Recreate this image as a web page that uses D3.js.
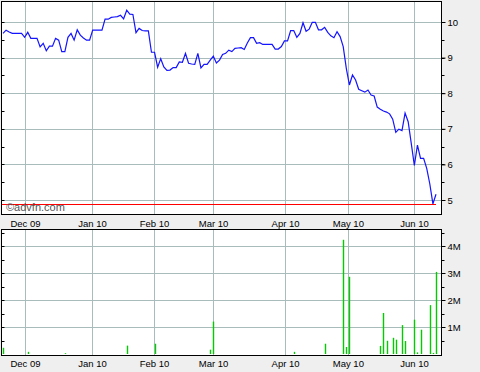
<!DOCTYPE html>
<html>
<head>
<meta charset="utf-8">
<script src="https://cdn.jsdelivr.net/npm/d3@7"></script>
<style>
  body { margin: 0; background: #efefef; }
  svg { display: block; font-family: "Liberation Sans", Arial, sans-serif; }
</style>
</head>
<body>
<svg id="chart" width="480" height="372"></svg>
<script>
// daily closing prices, one per trading day
const prices = [
  9.68, 9.77, 9.72, 9.68, 9.68, 9.68, 9.68, 9.57, 9.71, 9.54,
  9.54, 9.54, 9.30, 9.40, 9.19, 9.32, 9.32, 9.54, 9.49, 9.17,
  9.17, 9.57, 9.68, 9.49, 9.78, 9.63, 9.55, 9.49, 9.49, 9.77,
  9.77, 9.77, 9.77, 10.08, 10.08, 10.13, 10.14, 10.15, 10.19, 10.09,
  10.33, 10.22, 10.21, 9.70, 9.82, 9.76, 9.75, 9.75, 9.15, 9.15,
  8.73, 8.97, 8.74, 8.64, 8.65, 8.72, 8.72, 8.88, 8.87, 9.12,
  8.84, 8.82, 8.81, 9.12, 8.71, 8.81, 8.81, 8.93, 9.04, 8.85,
  8.93, 9.09, 9.12, 9.21, 9.17, 9.26, 9.27, 9.28, 9.23, 9.41,
  9.56, 9.56, 9.40, 9.42, 9.37, 9.37, 9.37, 9.37, 9.24, 9.24,
  9.31, 9.47, 9.47, 9.76, 9.76, 9.57, 9.68, 9.98, 9.74, 9.80,
  9.99, 9.99, 9.78, 9.78, 9.85, 9.71, 9.61, 9.56, 9.73, 9.59,
  9.31, 8.70, 8.23, 8.51, 8.37, 8.11, 8.07, 8.03, 8.09, 7.95,
  7.92, 7.61, 7.55, 7.50, 7.47, 7.42, 7.27, 6.90, 6.99, 6.95,
  7.44, 7.20, 6.59, 5.97, 6.54, 6.17, 6.17, 5.89, 5.45, 4.89,
  5.16
];

// volume (millions) on the days that traded
const volumeDays = [0, 8, 20, 40, 49, 67, 68, 94, 104, 110, 111, 112,
  122, 123, 124, 126, 127, 129, 130, 133, 134, 135, 138, 139, 140];
const volumeValues = [0.23, 0.08, 0.03, 0.31, 0.38, 0.16, 1.2, 0.08, 0.38, 4.23, 0.26, 2.86,
  0.30, 1.52, 0.49, 0.60, 0.53, 1.07, 0.48, 1.27, 0.06, 0.9, 1.81, 0.04, 3.04];

// month labels and the trading-day position where each month starts
const monthLabels = ["Dec 09", "Jan 10", "Feb 10", "Mar 10", "Apr 10", "May 10", "Jun 10"];
const monthStarts = [7.1, 28.8, 48.8, 67.9, 91.2, 111.5, 132.9];

const priceTicks = [5, 6, 7, 8, 9, 10];
const volumeTicks = [1, 2, 3, 4];
const volumeTickLabels = ["1M", "2M", "3M", "4M"];

const svg = d3.select("#chart");
const gridColor = "#a9bcbc";

const panelL = 1.5, panelR = 441.5;
const top1 = 1.5, bot1 = 214.5;
const top2 = 229.5, bot2 = 355.5;

const x = d3.scaleLinear().domain([0, prices.length - 1]).range([3, 436]);
const y = d3.scaleLinear().domain([5, 10]).range([200, 22]);
const yv = d3.scaleLinear().domain([0, 4]).range([354, 246]);

// panels
svg.append("rect").attr("x", panelL).attr("y", top1)
  .attr("width", panelR - panelL).attr("height", bot1 - top1).attr("fill", "#fff");
svg.append("rect").attr("x", panelL).attr("y", top2)
  .attr("width", panelR - panelL).attr("height", bot2 - top2).attr("fill", "#fff");

function drawGrid(g, yScale, ticks, yTop, yBot) {
  g.selectAll("line.h").data(ticks).join("line").attr("class", "h")
    .attr("x1", panelL).attr("x2", panelR)
    .attr("y1", d => Math.round(yScale(d)) + 0.5).attr("y2", d => Math.round(yScale(d)) + 0.5)
    .attr("stroke", gridColor);
  g.selectAll("line.v").data(monthStarts).join("line").attr("class", "v")
    .attr("x1", d => Math.round(x(d)) + 0.5).attr("x2", d => Math.round(x(d)) + 0.5)
    .attr("y1", yTop).attr("y2", yBot)
    .attr("stroke", gridColor);
}

drawGrid(svg.append("g"), y, priceTicks, top1, bot1);
drawGrid(svg.append("g"), yv, volumeTicks, top2, bot2);

// minor ticks at half steps, on both sides of each panel
function drawMinor(values, yScale) {
  const g = svg.append("g");
  g.selectAll("line.l").data(values).join("line").attr("class", "l")
    .attr("x1", panelL).attr("x2", panelL + 3)
    .attr("y1", d => Math.round(yScale(d)) + 0.5).attr("y2", d => Math.round(yScale(d)) + 0.5)
    .attr("stroke", "#000");
  g.selectAll("line.r").data(values).join("line").attr("class", "r")
    .attr("x1", panelR).attr("x2", panelR + 3)
    .attr("y1", d => Math.round(yScale(d)) + 0.5).attr("y2", d => Math.round(yScale(d)) + 0.5)
    .attr("stroke", "#000");
}
drawMinor(d3.range(4.75 + 0.25, 10.6, 0.5).filter(v => v > 4.65 && v < 10.5), y);
drawMinor(d3.range(0.5, 4.6, 0.5), yv);

// low line
const low = d3.min(prices);
svg.append("line")
  .attr("x1", panelL).attr("x2", x(prices.length - 1))
  .attr("y1", Math.round(y(low)) + 0.5).attr("y2", Math.round(y(low)) + 0.5)
  .attr("stroke", "#ff0000").attr("stroke-width", 1);

// price line
svg.append("path")
  .datum(prices)
  .attr("d", d3.line().x((d, i) => x(i)).y(d => y(d)))
  .attr("fill", "none")
  .attr("stroke", "#1414ff")
  .attr("stroke-width", 1.2);

// volume bars
svg.append("g").selectAll("line").data(volumeDays).join("line")
  .attr("x1", d => Math.round(x(d)) + 0.5).attr("x2", d => Math.round(x(d)) + 0.5)
  .attr("y1", yv(0)).attr("y2", (d, i) => yv(volumeValues[i]))
  .attr("stroke", "#00cc00").attr("stroke-width", 1.4);

// borders
svg.append("rect").attr("x", panelL).attr("y", top1)
  .attr("width", panelR - panelL).attr("height", bot1 - top1)
  .attr("fill", "none").attr("stroke", "#000");
svg.append("rect").attr("x", panelL).attr("y", top2)
  .attr("width", panelR - panelL).attr("height", bot2 - top2)
  .attr("fill", "none").attr("stroke", "#000");

// right axes
const priceAxis = svg.append("g").attr("transform", `translate(${panelR},0)`)
  .call(d3.axisRight(y).tickValues(priceTicks).tickSize(4).tickPadding(2).tickFormat(d3.format("d")));
const volAxis = svg.append("g").attr("transform", `translate(${panelR},0)`)
  .call(d3.axisRight(yv).tickValues(volumeTicks).tickSize(4).tickPadding(2)
    .tickFormat((d, i) => volumeTickLabels[i]));

// month labels
const xTicks = d3.axisBottom(x).tickValues(monthStarts).tickSize(0)
  .tickFormat((d, i) => monthLabels[i]);
const xAxis1 = svg.append("g").attr("transform", `translate(0,${bot1})`).call(xTicks.tickPadding(6));
const xAxis2 = svg.append("g").attr("transform", `translate(0,${bot2})`).call(xTicks.tickPadding(5));

[priceAxis, volAxis, xAxis1, xAxis2].forEach(a => {
  a.select(".domain").remove();
  a.selectAll("text").attr("font-size", 9.5)
    .attr("font-family", "'Liberation Sans', Arial, sans-serif").attr("fill", "#000");
  a.selectAll(".tick line").attr("stroke", "#000");
});

// watermark
svg.append("text").attr("x", 6).attr("y", 211)
  .attr("font-size", 11).attr("fill", "#555")
  .text("\u00a9advfn.com");
</script>
</body>
</html>
